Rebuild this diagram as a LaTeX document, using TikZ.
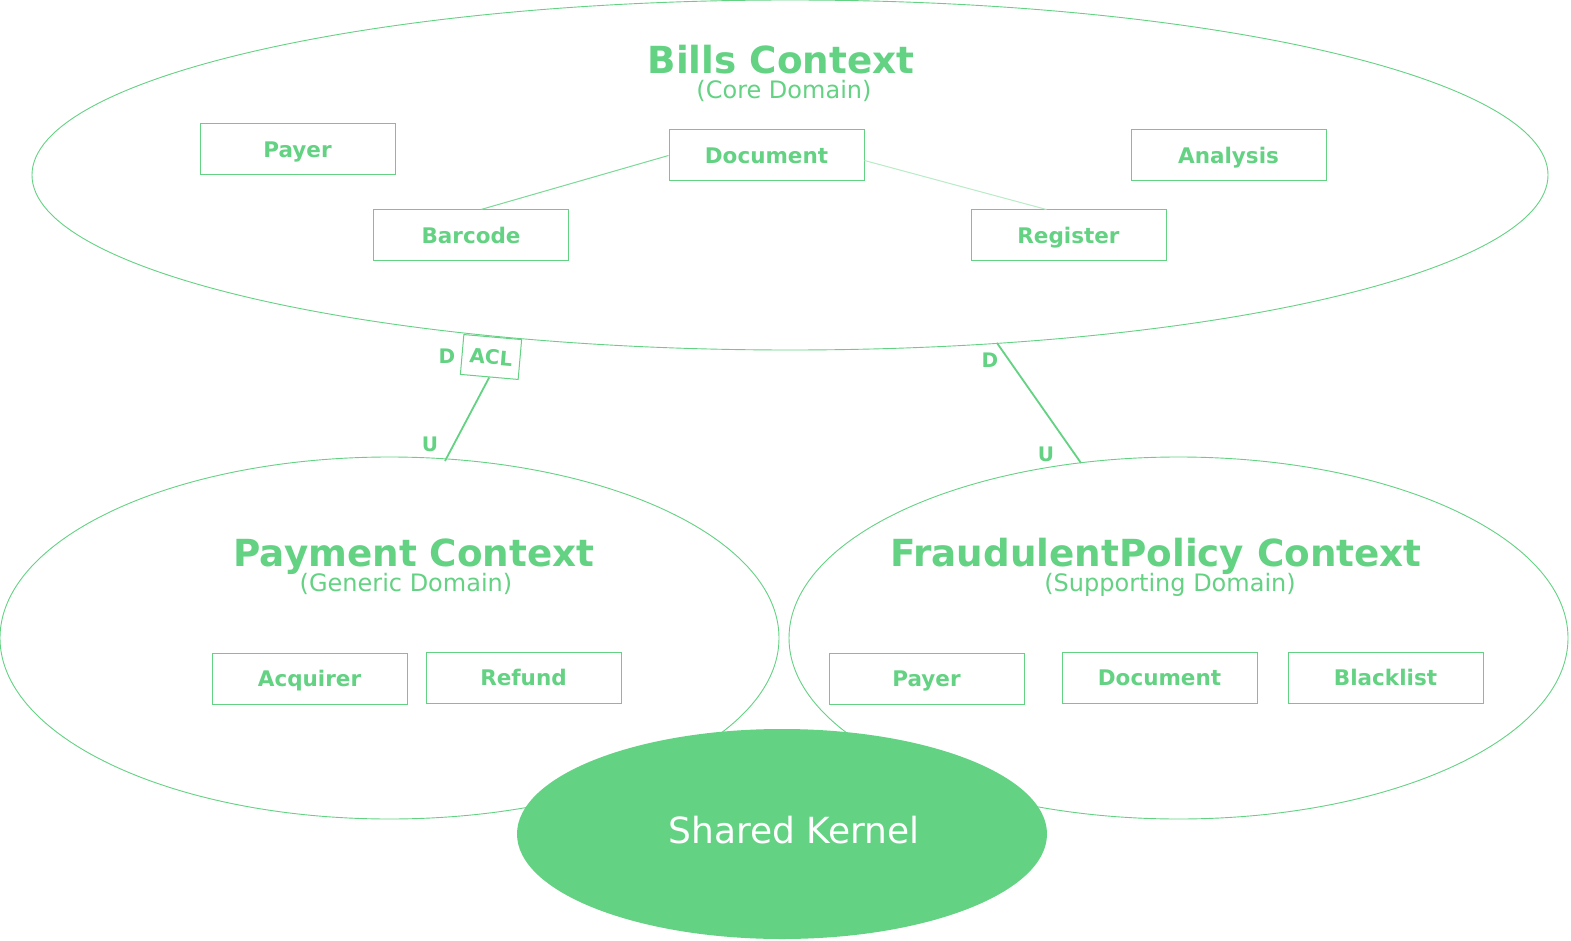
\documentclass[tikz,border=0pt]{standalone}
\usepackage{fontspec}
\setmainfont{DejaVu Sans}
\usetikzlibrary{shapes.geometric,calc}
\definecolor{gr}{RGB}{99,210,131}
\begin{document}
\begin{tikzpicture}[x=1pt,y=-1pt,
  ctx/.style={ellipse,draw=gr,line width=0.9pt,fill=white,inner sep=0pt},
  ent/.style={draw=gr,line width=1pt,minimum width=195pt,minimum height=51pt,inner sep=0pt,
    text height=15.5pt,text depth=0pt,
    text=gr,font=\fontsize{21.5}{24}\selectfont\bfseries},
  title/.style={text=gr,anchor=base,inner sep=0pt,font=\fontsize{37.3}{40}\selectfont\bfseries},
  sub/.style={text=gr,anchor=base,inner sep=0pt,font=\fontsize{24}{28}\selectfont},
  lab/.style={text=gr,inner sep=0pt,font=\fontsize{20}{22}\selectfont\bfseries},
  rel/.style={draw=gr,line width=1.8pt},
  assoc/.style={draw=gr,line width=1pt}]
\useasboundingbox (0,0) rectangle (1571,941);
% contexts
\node[ctx,minimum width=1516pt,minimum height=350pt] (bills) at (790,175) {};
\node[ctx,minimum width=779pt,minimum height=362pt] (pay) at (389.5,638) {};
\node[ctx,minimum width=779pt,minimum height=362pt] (fraud) at (1178.5,638) {};
% titles
\node[title] (tb) at (781,74) {Bills Context};
\node[sub] (sb) at (784,99) {(Core Domain)};
\node[title] (tp) at (414,566) {Payment Context};
\node[sub] (sp) at (406,591) {(Generic Domain)};
\node[title] (tf) at (1156,566) {FraudulentPolicy Context};
\node[sub] (sf) at (1170,591) {(Supporting Domain)};
% entities in bills
\node[ent] (payer) at (297.5,149.5) {Payer};
\node[ent] (doc) at (766.5,155.5) {Document};
\node[ent] (analysis) at (1228.5,155.5) {Analysis};
\node[ent] (barcode) at (471,235.5) {Barcode};
\node[ent] (register) at (1068.5,235.5) {Register};
\draw[assoc,draw=gr!85] (doc.west) -- ($(barcode.north)+(10,0)$);
\draw[assoc,draw=gr!45] ($(doc.east)+(0,5)$) -- ($(register.north)+(-22,0)$);
% entities in payment
\node[ent] (acq) at (309.5,678.5) {Acquirer};
\node[ent] (refund) at (523.5,677.5) {Refund};
% entities in fraud
\node[ent] (payer2) at (926.5,678.5) {Payer};
\node[ent] (doc2) at (1159.5,677.5) {Document};
\node[ent] (black) at (1385.5,677.5) {Blacklist};
% ACL relation
\node[draw=gr,line width=1pt,fill=white,minimum width=58pt,minimum height=40pt,inner sep=0pt,
  rotate=-5,text=gr,font=\fontsize{20}{22}\selectfont\bfseries] (acl) at (491,357) {ACL};
\coordinate (pu) at (445,461);
\draw[rel] (acl.south) -- (pu);
\node[lab] (d1) at (447,356) {D};
\node[lab] (u1) at (430,444) {U};
% bills - fraud relation
\coordinate (bd) at (997,343);
\coordinate (fu) at (1081,463);
\draw[rel] (bd) -- (fu);
\node[lab] (d2) at (990,360) {D};
\node[lab] (u2) at (1046,454) {U};
% shared kernel
\node[ellipse,fill=gr,draw=none,minimum width=530pt,minimum height=210pt,inner sep=0pt] (sk) at (782,834) {};
\node[text=white,anchor=base,inner sep=0pt,font=\fontsize{36}{40}\selectfont] (skt) at (794,843) {Shared Kernel};
\end{tikzpicture}
\end{document}
